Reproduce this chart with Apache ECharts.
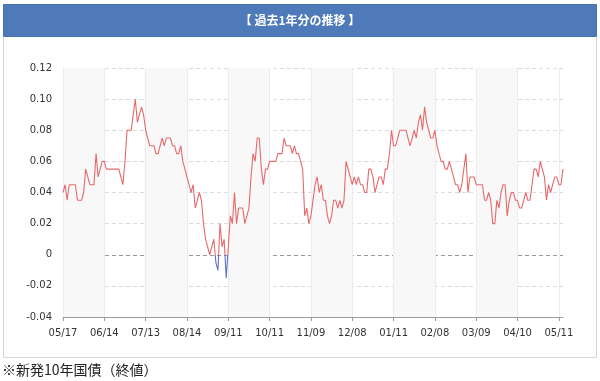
<!DOCTYPE html>
<html>
<head>
<meta charset="utf-8">
<script src="https://cdn.jsdelivr.net/npm/echarts@6/dist/echarts.min.js"></script>
<style>
html,body{margin:0;padding:0;background:#fff;}
#c{width:600px;height:381px;}
</style>
</head>
<body>
<div id="c"></div>
<script>
// tick labels on the x axis (one every 20 trading days)
var tickLabels = ['05/17','06/14','07/13','08/14','09/11','10/11','11/09','12/08','01/11','02/08','03/09','04/10','05/11'];
var labelStep = 20;

// daily yield (%) – newly issued 10-year JGB, closing
var yields = [
  0.040,0.045,0.035,0.045,0.045,0.045,0.045,0.035,0.035,0.035,
  0.040,0.055,0.050,0.045,0.045,0.045,0.065,0.050,0.055,0.060,
  0.060,0.055,0.055,0.055,0.055,0.055,0.055,0.055,0.050,0.045,
  0.060,0.080,0.080,0.080,0.090,0.100,0.085,0.090,0.095,0.090,
  0.080,0.075,0.070,0.070,0.070,0.065,0.065,0.070,0.075,0.070,
  0.075,0.075,0.075,0.070,0.070,0.065,0.065,0.070,0.060,0.055,
  0.050,0.045,0.040,0.045,0.030,0.035,0.040,0.035,0.020,0.010,
  0.005,0.000,0.005,0.010,-0.005,-0.010,0.020,0.005,0.010,-0.015,
  0.005,0.025,0.020,0.040,0.020,0.030,0.030,0.030,0.020,0.025,
  0.030,0.050,0.065,0.060,0.075,0.075,0.055,0.045,0.055,0.055,
  0.060,0.060,0.060,0.060,0.065,0.065,0.065,0.075,0.070,0.070,
  0.070,0.065,0.070,0.065,0.065,0.060,0.055,0.025,0.030,0.020,
  0.025,0.035,0.045,0.050,0.040,0.045,0.035,0.035,0.025,0.020,
  0.025,0.035,0.035,0.030,0.035,0.030,0.035,0.060,0.055,0.050,
  0.045,0.050,0.045,0.050,0.045,0.045,0.040,0.040,0.055,0.055,
  0.050,0.040,0.045,0.050,0.050,0.045,0.055,0.055,0.065,0.080,
  0.070,0.070,0.075,0.080,0.080,0.080,0.080,0.075,0.070,0.075,
  0.080,0.075,0.085,0.090,0.080,0.095,0.085,0.080,0.075,0.075,
  0.080,0.070,0.065,0.060,0.060,0.055,0.055,0.060,0.055,0.050,
  0.045,0.045,0.040,0.045,0.055,0.065,0.040,0.050,0.050,0.050,
  0.045,0.045,0.045,0.045,0.035,0.035,0.040,0.035,0.020,0.020,
  0.035,0.030,0.040,0.045,0.045,0.025,0.035,0.040,0.040,0.035,
  0.035,0.030,0.030,0.035,0.040,0.035,0.035,0.045,0.055,0.055,
  0.050,0.060,0.055,0.050,0.035,0.045,0.040,0.045,0.050,0.050,
  0.045,0.045,0.055
];

var yMin = -0.04, yMax = 0.12, yStep = 0.02;
var titleText = '【 過去1年分の推移 】';
var noteText = '※新発10年国債（終値）';

var categories = yields.map(function (v, i) {
  return (i % labelStep === 0 && tickLabels[i / labelStep]) ? tickLabels[i / labelStep] : '';
});

var RED = '#e8686a', BLUE = '#5d72c9';
var chart = echarts.init(document.getElementById('c'), null, {renderer: 'canvas'});
var gridColors = ['#dcdcdc','#dcdcdc','#9a9a9a','#dcdcdc','#dcdcdc','#dcdcdc','#dcdcdc','#dcdcdc','#dcdcdc'];

chart.setOption({
  animation: false,
  backgroundColor: '#fff',
  graphic: [
    {type: 'rect', z: -10, shape: {x: 3.5, y: 4.5, width: 593, height: 353},
     style: {fill: '#fff', stroke: '#d6d6d6', lineWidth: 1}},
    {type: 'rect', z: 10, shape: {x: 3.5, y: 4.5, width: 593, height: 32},
     style: {fill: '#4f7ab9', stroke: '#4872b2', lineWidth: 1}},
    {type: 'text', z: 11, x: 300, y: 20.5,
     style: {text: titleText, fill: '#fff', font: 'bold 12px "Noto Sans CJK JP", sans-serif',
             textAlign: 'center', textVerticalAlign: 'middle'}},
    {type: 'text', z: 11, x: 2, y: 370,
     style: {text: noteText, fill: '#222', font: '14px "Noto Sans CJK JP", sans-serif',
             textAlign: 'left', textVerticalAlign: 'middle'}}
  ],
  grid: {left: 63, right: 37, top: 68, bottom: 64, containLabel: false},
  xAxis: {
    type: 'category',
    data: categories,
    boundaryGap: false,
    axisLine: {show: true, onZero: false, lineStyle: {color: '#9a9a9a', width: 1}},
    axisTick: {show: true, interval: labelStep - 1, length: 4, lineStyle: {color: '#9a9a9a'}},
    axisLabel: {interval: labelStep - 1, margin: 11, color: '#333',
                fontFamily: 'DejaVu Sans', fontSize: 10},
    splitLine: {show: true, interval: labelStep - 1, lineStyle: {color: '#ececec', width: 1}},
    splitArea: {show: true, interval: labelStep - 1,
                areaStyle: {color: ['#f8f8f8', 'rgba(255,255,255,0)']}}
  },
  yAxis: {
    type: 'value',
    min: yMin, max: yMax, interval: yStep,
    axisLine: {show: false},
    axisTick: {show: false},
    axisLabel: {margin: 11, color: '#333', fontFamily: 'DejaVu Sans', fontSize: 10,
                formatter: function (v) { return Math.abs(v) < 1e-9 ? '0' : v.toFixed(2); }},
    splitLine: {show: true, lineStyle: {color: gridColors, type: [4, 3], width: 1}}
  },
  series: [{
    type: 'line',
    data: yields,
    showSymbol: false,
    symbol: 'none',
    lineStyle: {width: 1.1, color: RED},
    z: 5
  }]
});

// colour the part of the line below zero blue, using the axis' own pixel position of 0
var zeroY = chart.convertToPixel({yAxisIndex: 0}, 0);
var H = chart.getHeight();
var f = zeroY / H;
chart.setOption({
  series: [{
    lineStyle: {
      color: new echarts.graphic.LinearGradient(0, 0, 0, H, [
        {offset: 0, color: RED}, {offset: f, color: RED},
        {offset: f, color: BLUE}, {offset: 1, color: BLUE}
      ], true)
    }
  }]
});
</script>
</body>
</html>
